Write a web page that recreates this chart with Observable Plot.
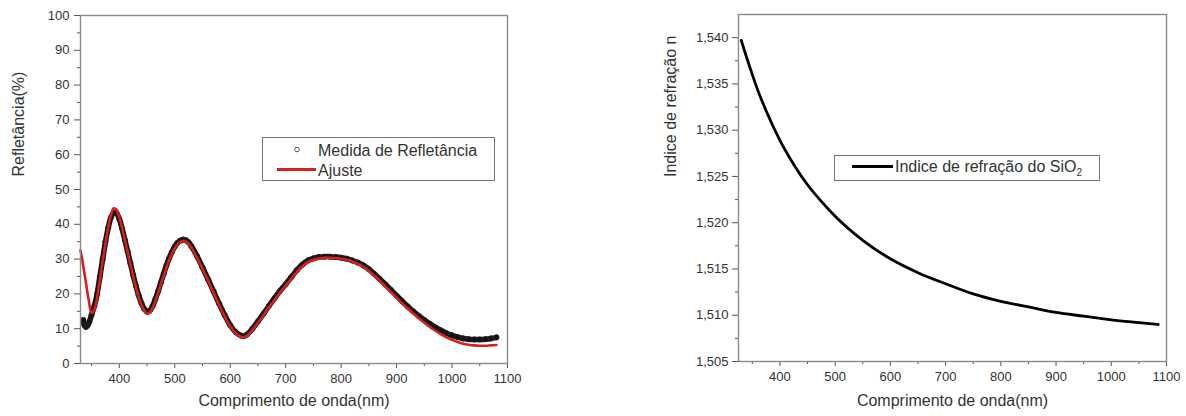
<!DOCTYPE html>
<html><head><meta charset="utf-8">
<script src="https://cdn.jsdelivr.net/npm/d3@7"></script>
<script src="https://cdn.jsdelivr.net/npm/@observablehq/plot@0.6"></script>
<style>
body{margin:0;background:#fff;font-family:'Liberation Sans',Arial,sans-serif;}
#wrap{position:relative;width:1186px;height:416px;overflow:hidden;background:#fff}
.chart{position:absolute;top:0}
#overlay{position:absolute;left:0;top:0;pointer-events:none}
</style></head>
<body>
<div id="wrap">
  <div id="left" class="chart" style="left:0"></div>
  <div id="right" class="chart" style="left:600px"></div>
</div>
<script>
// ---- Data: reflectance fit (Ajuste) ----
const fitWl = [330,335,340,345,350,355,360,365,370,375,380,385,390,395,400,405,410,415,420,425,430,435,440,445,450,455,460,465,470,475,480,485,490,495,500,505,510,515,520,525,530,540,550,560,570,580,590,600,610,620,625,630,640,650,660,670,680,690,700,710,720,730,740,750,760,770,780,790,800,810,820,830,840,850,860,870,880,890,900,910,920,930,940,950,960,970,980,990,1000,1010,1020,1030,1040,1050,1060,1070,1080];
const fitR  = [32.5,28,23,18,14.5,15.5,19,24,29.5,34.5,39,42.8,44.6,44.2,42,39,35.5,32,28.5,25,21.8,19,16.8,15.2,14.3,14.6,16,18,20.3,22.8,25.2,27.6,29.8,31.6,33.1,34.2,34.9,35.2,35,34.4,33.3,30.4,27.2,23.8,20.3,16.8,13.5,10.6,8.6,7.6,7.5,7.9,9.6,11.7,13.9,16.2,18.3,20.4,22.3,24.3,26.3,27.9,29.1,29.8,30.2,30.4,30.4,30.3,30.1,29.8,29.3,28.6,27.8,26.6,25.2,23.7,22.1,20.5,18.9,17.3,15.8,14.4,13,11.7,10.5,9.4,8.4,7.5,6.8,6.2,5.7,5.4,5.2,5.1,5.1,5.2,5.3];

// ---- Data: measured reflectance (Medida de Refletância) ----
const measWl = [335,337,340,343,346,350,355,360,365,370,375,380,385,390,395,400,405,410,415,420,425,430,435,440,445,450,455,460,465,470,475,480,485,490,495,500,505,510,515,520,525,530,540,550,560,570,580,590,600,610,620,625,630,640,650,660,670,680,690,700,710,720,730,740,750,760,770,780,790,800,810,820,830,840,850,860,870,880,890,900,910,920,930,940,950,960,970,980,990,1000,1010,1020,1030,1040,1050,1060,1070,1080];
const measR  = [12.5,11,10.5,11,12,14,16.5,20,25,30,35,39,42,43.3,43.2,41.5,38.8,35.5,32.2,28.8,25.4,22.3,19.5,17.3,15.7,14.9,15.2,16.5,18.5,20.8,23.3,25.8,28.2,30.3,32.1,33.6,34.7,35.3,35.6,35.4,34.8,33.7,30.9,27.6,24.2,20.7,17.2,13.9,11,9,8,7.9,8.3,10,12.1,14.3,16.6,18.8,20.9,22.8,24.8,26.8,28.4,29.6,30.2,30.6,30.7,30.7,30.6,30.4,30.1,29.6,29,28.2,27.1,25.7,24.2,22.7,21.1,19.5,17.9,16.4,15,13.7,12.5,11.4,10.4,9.5,8.7,8.1,7.6,7.2,7,6.9,6.9,7,7.2,7.5];

// ---- Data: refractive index of SiO2 ----
const nWl  = [330,340,350,360,375,400,425,450,475,500,550,600,650,700,750,800,850,900,950,1000,1050,1085];
const nVal = [1.5397,1.5378,1.5360,1.5343,1.5321,1.5289,1.5263,1.5241,1.5223,1.5207,1.5181,1.5161,1.5146,1.5134,1.5123,1.5115,1.5109,1.5103,1.5099,1.5095,1.5092,1.5090];

// ---- Ticks ----
const xMajor = [400,500,600,700,800,900,1000,1100];
const xMinor = [350,450,550,650,750,850,950,1050];
const rMajor = [0,10,20,30,40,50,60,70,80,90,100];
const rMinor = [5,15,25,35,45,55,65,75,85,95];
const nMajor = [1.505,1.510,1.515,1.520,1.525,1.530,1.535,1.540];
const nMinor = [1.5075,1.5125,1.5175,1.5225,1.5275,1.5325,1.5375];

// ---- Labels ----
const xTitle = "Comprimento de onda(nm)";
const leftYTitle = "Refletância(%)";
const rightYTitle = "Indice de refração n";

const fitData = fitWl.map((w, i) => ({w, r: fitR[i]}));
const measData = measWl.map((w, i) => ({w, r: measR[i]}));
const nData = nWl.map((w, i) => ({w, n: nVal[i]}));

const style = {fontFamily: "'Liberation Sans', Arial, sans-serif", fontSize: "13px", color: "#333", background: "transparent", overflow: "visible"};
const tickStroke = "#555";
const plain = d => String(d);

const left = Plot.plot({
  width: 540, height: 416,
  marginLeft: 80, marginRight: 33, marginTop: 15, marginBottom: 53,
  style,
  x: {domain: [330, 1100], label: null},
  y: {domain: [0, 100], label: null},
  marks: [
    Plot.axisX(xMajor, {tickSize: 5, tickPadding: 5, label: null, stroke: tickStroke, tickFormat: plain}),
    Plot.axisX(xMinor, {tickSize: 3, tickFormat: () => "", label: null, stroke: tickStroke}),
    Plot.axisY(rMajor, {tickSize: 6, tickPadding: 5, label: null, stroke: tickStroke, tickFormat: plain}),
    Plot.axisY(rMinor, {tickSize: 3, tickFormat: () => "", label: null, stroke: tickStroke}),
    Plot.line(measData, {x: "w", y: "r", stroke: "#111", strokeWidth: 5.5, curve: "catmull-rom"}),
    Plot.dot(measData, {x: "w", y: "r", r: 2.6, stroke: "#222", strokeWidth: 1, fill: "none"}),
    Plot.line(fitData, {x: "w", y: "r", stroke: "#d91e1e", strokeWidth: 2.6, curve: "catmull-rom"}),
    Plot.frame({stroke: "#8a8a8a", strokeWidth: 1.4}),
    Plot.text([xTitle], {frameAnchor: "bottom", dy: 42, fontSize: 16, fill: "#333"}),
    Plot.text([leftYTitle], {frameAnchor: "left", dx: -62, dy: -13, rotate: -90, fontSize: 16, fill: "#333"})
  ]
});
document.getElementById("left").appendChild(left);

const right = Plot.plot({
  width: 586, height: 416,
  marginLeft: 138, marginRight: 20, marginTop: 14, marginBottom: 55,
  style,
  x: {domain: [325, 1100], label: null},
  y: {domain: [1.505, 1.5425], label: null},
  marks: [
    Plot.axisX(xMajor, {tickSize: 5, tickPadding: 5, label: null, stroke: tickStroke, tickFormat: plain}),
    Plot.axisX(xMinor, {tickSize: 3, tickFormat: () => "", label: null, stroke: tickStroke}),
    Plot.axisY(nMajor, {tickSize: 6, tickPadding: 4, label: null, stroke: tickStroke, tickFormat: d => d.toFixed(3).replace(".", ",")}),
    Plot.axisY(nMinor, {tickSize: 3, tickFormat: () => "", label: null, stroke: tickStroke}),
    Plot.line(nData, {x: "w", y: "n", stroke: "#000", strokeWidth: 2.8, curve: "monotone-x"}),
    Plot.frame({stroke: "#8a8a8a", strokeWidth: 1.4}),
    Plot.text([xTitle], {frameAnchor: "bottom", dy: 44, fontSize: 16, fill: "#333"}),
    Plot.text([rightYTitle], {frameAnchor: "left", dx: -68, dy: -11, rotate: -90, fontSize: 16, fill: "#333"})
  ]
});
document.getElementById("right").appendChild(right);

// ---- Legends (overlay) ----
const ns = "http://www.w3.org/2000/svg";
const ov = document.createElementNS(ns, "svg");
ov.setAttribute("id", "overlay");
ov.setAttribute("width", 1186);
ov.setAttribute("height", 416);
ov.innerHTML = `
  <g font-family="'Liberation Sans', Arial, sans-serif" font-size="16" fill="#333">
    <rect x="262.5" y="137.5" width="232" height="43" fill="#fff" stroke="#777" stroke-width="1"/>
    <circle cx="297" cy="149.5" r="2.3" fill="#fff" stroke="#555" stroke-width="1"/>
    <text x="318" y="156">Medida de Refletância</text>
    <line x1="277" x2="316" y1="169.5" y2="169.5" stroke="#d91e1e" stroke-width="3"/>
    <text x="318" y="175.5">Ajuste</text>
    <rect x="834.5" y="155.5" width="265" height="25" fill="#fff" stroke="#777" stroke-width="1"/>
    <line x1="852" x2="893" y1="166.5" y2="166.5" stroke="#000" stroke-width="3"/>
    <text x="895" y="172">Indice de refração do SiO<tspan dy="4" font-size="10">2</tspan></text>
  </g>`;
document.getElementById("wrap").appendChild(ov);
</script>
</body></html>
